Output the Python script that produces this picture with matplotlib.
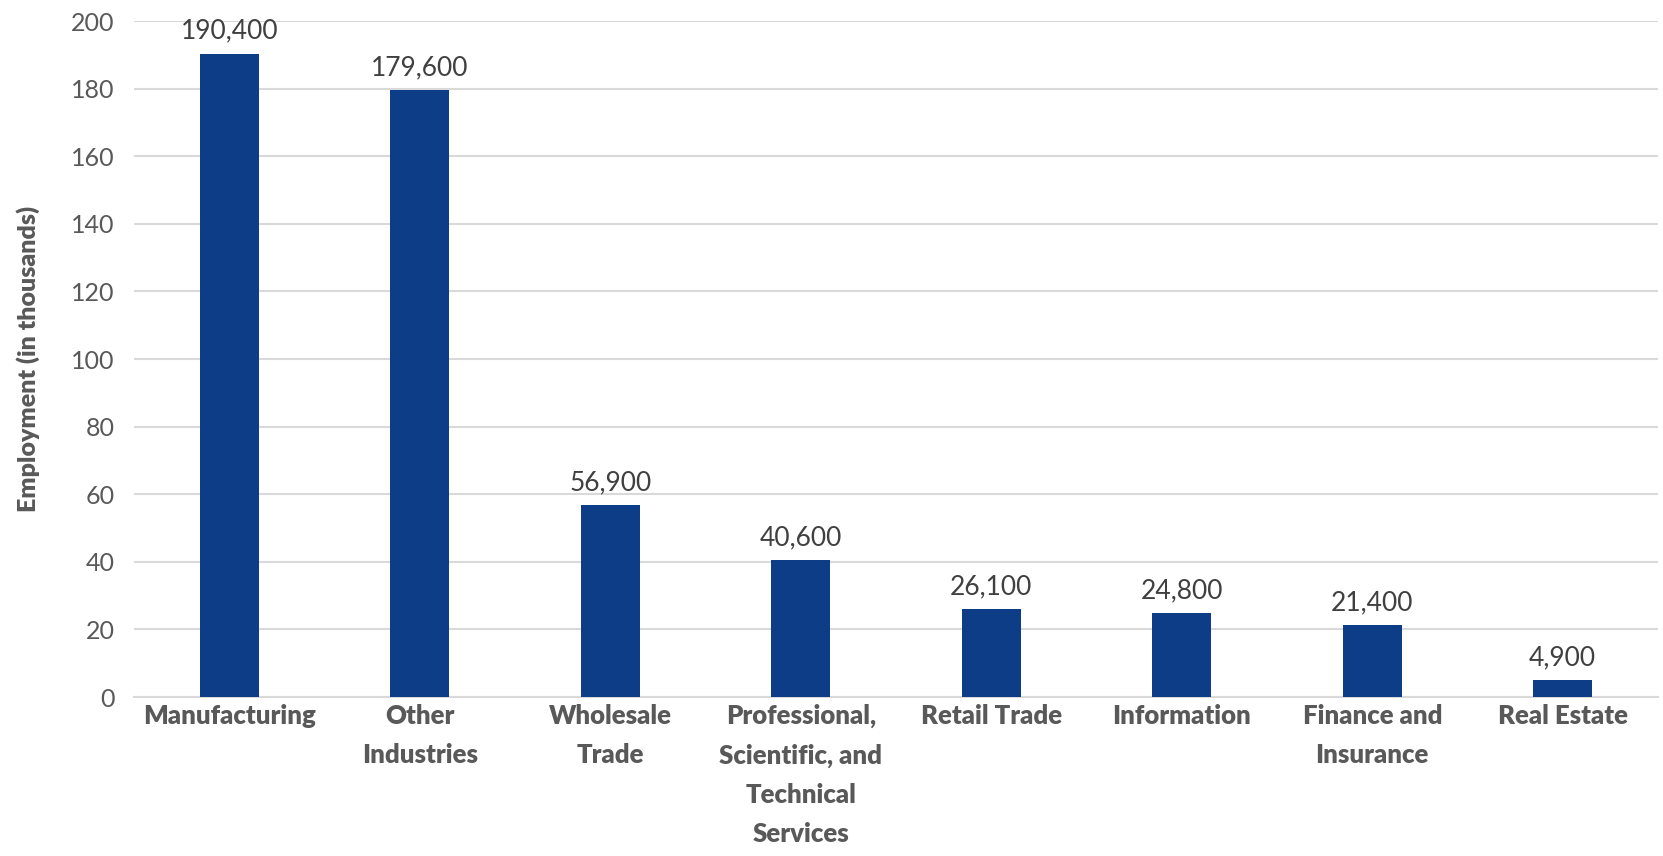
import matplotlib.pyplot as plt

# Employment by industry (in thousands)
industries = ['Manufacturing', 'Other\nIndustries', 'Wholesale\nTrade',
              'Professional,\nScientific, and\nTechnical\nServices',
              'Retail Trade', 'Information', 'Finance and\nInsurance', 'Real Estate']
employment = [190.4, 179.6, 56.9, 40.6, 26.1, 24.8, 21.4, 4.9]
value_labels = ['190,400', '179,600', '56,900', '40,600', '26,100', '24,800', '21,400', '4,900']
yticks = [0, 20, 40, 60, 80, 100, 120, 140, 160, 180, 200]

plt.rcParams['font.family'] = ['Lato', 'DejaVu Sans']
text_color = '#595959'

fig = plt.figure(figsize=(16.63, 8.56), dpi=100)
ax = fig.add_axes([0.0806, 0.1857, 0.9164, 0.7897])

x = range(len(industries))
bars = ax.bar(x, employment, width=0.31, color='#0D3D87', zorder=3)

for rect, lbl in zip(bars, value_labels):
    ax.annotate(lbl, (rect.get_x() + rect.get_width() / 2, rect.get_height()),
                xytext=(0, 7), textcoords='offset points', ha='center', va='bottom',
                fontsize=19, color='#404040')

ax.set_xlim(-0.5, len(industries) - 0.5)
ax.set_ylim(0, 200)
ax.set_yticks(yticks)
ax.set_xticks(list(x))
ax.set_xticklabels(industries, fontsize=18.5, fontweight='heavy', color=text_color,
                   linespacing=1.75, va='top')
ax.tick_params(axis='y', labelsize=18, labelcolor=text_color, length=0, pad=14)
ax.tick_params(axis='x', length=0, pad=5)

ax.grid(axis='y', color='#D9D9D9', linewidth=1.5, zorder=0)
for side in ['top', 'right', 'left']:
    ax.spines[side].set_visible(False)
ax.spines['bottom'].set_color('#D9D9D9')
ax.spines['bottom'].set_linewidth(1.5)

ax.set_ylabel('Employment (in thousands)', fontsize=18, fontweight='heavy',
              color=text_color, labelpad=22)

plt.savefig('out.png', dpi=100)
